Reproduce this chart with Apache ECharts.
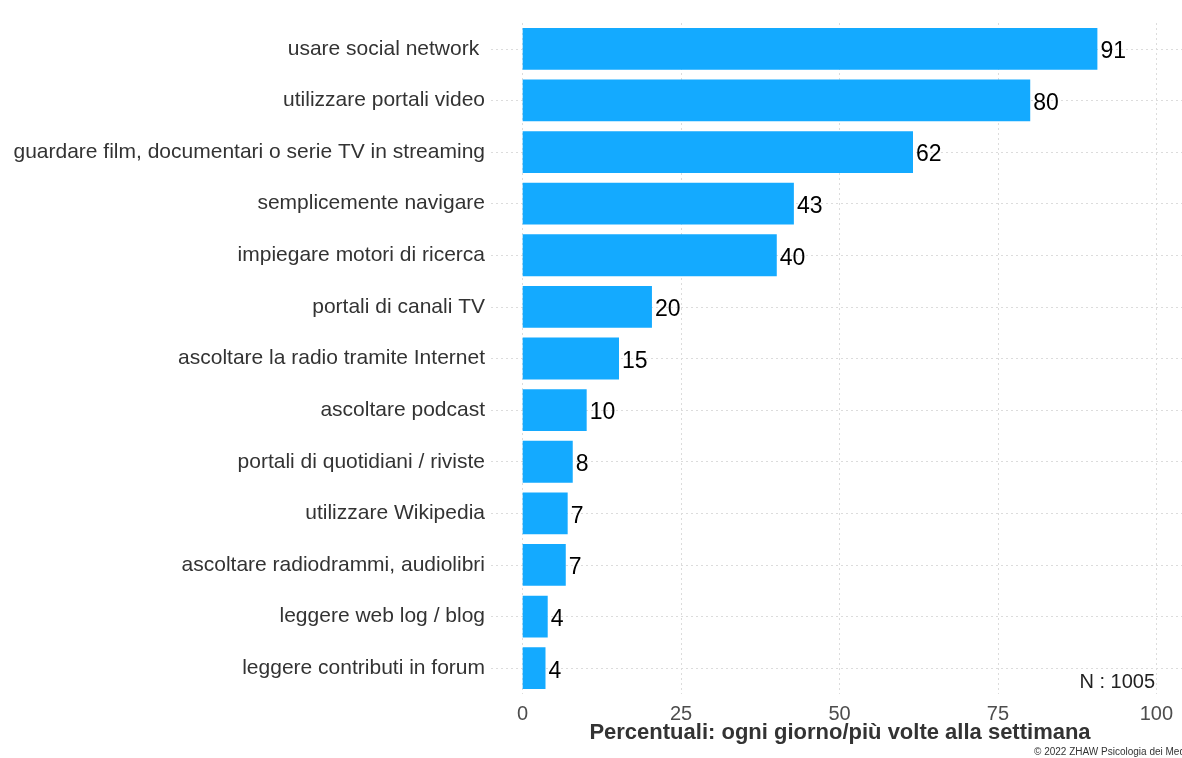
<!DOCTYPE html>
<html>
<head>
<meta charset="utf-8">
<script src="https://cdn.jsdelivr.net/npm/echarts@6/dist/echarts.min.js"></script>
<style>html,body{margin:0;padding:0;background:#fff}#c{width:1182px;height:758px}</style>
</head>
<body>
<div id="c"></div>
<script>
const categories = [
  "usare social network ",
  "utilizzare portali video",
  "guardare film, documentari o serie TV in streaming",
  "semplicemente navigare",
  "impiegare motori di ricerca",
  "portali di canali TV",
  "ascoltare la radio tramite Internet",
  "ascoltare podcast",
  "portali di quotidiani / riviste",
  "utilizzare Wikipedia",
  "ascoltare radiodrammi, audiolibri",
  "leggere web log / blog",
  "leggere contributi in forum"
];
const values = [90.7, 80.1, 61.6, 42.8, 40.1, 20.4, 15.2, 10.1, 7.9, 7.1, 6.8, 3.95, 3.6];
const xTicks = [0, 25, 50, 75, 100];
const axisTitle = "Percentuali: ogni giorno/più volte alla settimana";
const nLabel = "N : 1005";
const copyright = "© 2022 ZHAW Psicologia dei Media";

const FONT = "Liberation Sans, Arial, sans-serif";
const gridStyle = { color: '#dcdcdc', type: [2, 3], width: 1 };

const chart = echarts.init(document.getElementById('c'), null, { renderer: 'canvas' });
chart.setOption({
  animation: false,
  backgroundColor: '#ffffff',
  grid: { left: 491, right: -6, top: 23, bottom: 64, containLabel: false, outerBoundsMode: 'none' },
  xAxis: {
    type: 'value', min: -5, max: 105,
    axisLine: { show: false }, axisTick: { show: false, customValues: xTicks },
    splitLine: { show: false },
    axisLabel: { customValues: xTicks, fontSize: 20, color: '#4d4d4d', fontFamily: FONT, margin: 10 }
  },
  yAxis: {
    type: 'category', data: categories, inverse: true,
    axisLine: { show: false }, axisTick: { show: false }, splitLine: { show: false },
    axisLabel: { fontSize: 21, color: '#333333', fontFamily: FONT, margin: 6, padding: [4, 0, 0, 0] }
  },
  series: [{
    type: 'bar',
    data: values,
    barWidth: '81%',
    itemStyle: { color: '#14aaff' },
    z: 3,
    label: {
      show: true, position: 'right', distance: 3, offset: [0, 3],
      fontSize: 23, color: '#000', fontFamily: FONT,
      formatter: p => Math.round(p.value)
    },
    markLine: {
      silent: true, symbol: 'none', z: 1,
      label: { show: false },
      lineStyle: gridStyle,
      animation: false,
      data: xTicks.map(v => ({ xAxis: v })).concat(categories.map(c => ({ yAxis: c })))
    }
  }],
  graphic: [
    { type: 'text', style: { text: axisTitle, font: 'bold 22px ' + FONT, fill: '#333', textAlign: 'center', textVerticalAlign: 'middle', x: 840, y: 733 } },
    { type: 'text', style: { text: nLabel, font: '20px ' + FONT, fill: '#222', textAlign: 'right', textVerticalAlign: 'middle', x: 1155, y: 682 } },
    { type: 'text', style: { text: copyright, font: '10px ' + FONT, fill: '#333', textAlign: 'left', textVerticalAlign: 'middle', x: 1034, y: 752 } }
  ]
});
</script>
</body>
</html>
